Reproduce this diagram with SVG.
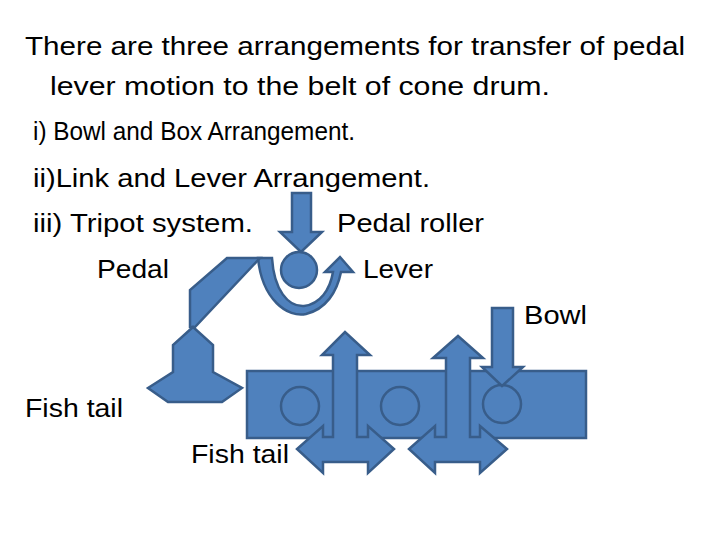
<svg xmlns="http://www.w3.org/2000/svg" width="720" height="540" viewBox="0 0 720 540">
<style>
text{font-family:"Liberation Sans",Arial,sans-serif;font-size:25px;fill:#000}
.s{fill:#4f81bd;stroke:#385d8a;stroke-width:2.5;stroke-linejoin:miter}
.c{fill:none;stroke:#385d8a;stroke-width:2.5}
</style>
<rect width="720" height="540" fill="#fff"/>
<g id="texts">
<text x="25" y="55" textLength="660" lengthAdjust="spacingAndGlyphs">There are three arrangements for transfer of pedal</text>
<text x="50" y="95" textLength="500" lengthAdjust="spacingAndGlyphs">lever motion to the belt of cone drum.</text>
<text x="33" y="140" textLength="322" lengthAdjust="spacingAndGlyphs">i) Bowl and Box Arrangement.</text>
<text x="33" y="187" textLength="397" lengthAdjust="spacingAndGlyphs">ii)Link and Lever Arrangement.</text>
<text x="33" y="232" textLength="220" lengthAdjust="spacingAndGlyphs">iii) Tripot system.</text>
<text x="337" y="232" textLength="147" lengthAdjust="spacingAndGlyphs">Pedal roller</text>
<text x="97" y="278" textLength="72" lengthAdjust="spacingAndGlyphs">Pedal</text>
<text x="363" y="278" textLength="70" lengthAdjust="spacingAndGlyphs">Lever</text>
<text x="524" y="324" textLength="63" lengthAdjust="spacingAndGlyphs">Bowl</text>
<text x="25" y="417" textLength="98" lengthAdjust="spacingAndGlyphs">Fish tail</text>
<text x="191" y="463" textLength="98" lengthAdjust="spacingAndGlyphs">Fish tail</text>
</g>
<g id="drum">
<rect class="s" x="247" y="371" width="339" height="67"/>
<circle class="c" cx="300" cy="406" r="19"/>
<circle class="c" cx="400" cy="406" r="19"/>
<circle class="c" cx="502" cy="404" r="19"/>
</g>
<g id="tarrow1"><path class="s" d="M333,437 L333,355 L322,355 L345,332 L370,355 L357,355 L357,437 L368,437 L368,426 L394,449 L368,473 L368,462 L323,462 L323,473 L297,449 L323,426 L323,437 Z"/></g>
<g id="tarrow2"><path class="s" d="M446,437 L446,358 L433,358 L458,336 L483,358 L470,358 L470,437 L480,437 L480,426 L507,449 L480,473 L480,462 L435,462 L435,473 L409,449 L435,426 L435,437 Z"/></g>
<g id="bowl"><path class="s" d="M492,308 L513,308 L513,367 L523,367 L502,386 L482,367 L492,367 Z"/></g>
<g id="roller">
<path class="s" d="M292,193 L311,193 L311,232 L322,232 L301,252 L280,232 L292,232 Z"/>
<circle class="s" cx="299" cy="270" r="18"/>
</g>
<g id="lever"><path class="s" d="M258,258 C262,300 288,318 306,314 C326,309 337,292 341,272 L353,272 L340,257 L325,272 L333,272 C330,290 320,304 304,306 C288,307 274,290 272,258 Z"/></g>
<g id="pedal">
<path class="s" d="M227,258 L260,258 L195,327 L190,327 L190,290 Z"/>
<path class="s" d="M193,327 L213,345 L213,372 L242,388 L222,402 L168,402 L148,388 L173,372 L173,345 Z"/>
</g>
<g id="connectors"/>
</svg>
